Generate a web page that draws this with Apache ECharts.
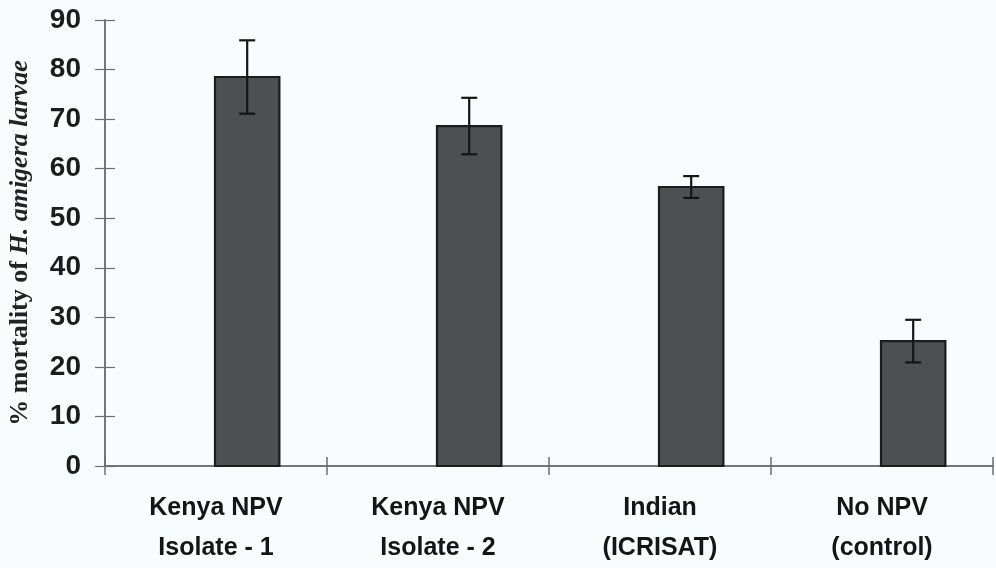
<!DOCTYPE html>
<html>
<head>
<meta charset="utf-8">
<script src="https://cdn.jsdelivr.net/npm/echarts@6/dist/echarts.min.js"></script>
<style>
  html, body { margin: 0; padding: 0; background: #f9fcfd; }
  #chart { width: 996px; height: 568px; }
</style>
</head>
<body>
<div id="chart"></div>
<script>
// Treatments (x axis), mean % mortality and the ± error of each mean
const treatments = ['Kenya NPV\nIsolate - 1', 'Kenya NPV\nIsolate - 2', 'Indian\n(ICRISAT)', 'No NPV\n(control)'];
const meanMortality = [78.5, 68.6, 56.3, 25.2];
const errorMargin = [7.4, 5.7, 2.2, 4.3];
const yTicks = { min: 0, max: 90, step: 10 };

const axisGray = '#6b6f70';
const barShare = 0.29;   // bar width as a share of the category band

const chart = echarts.init(document.getElementById('chart'));

// Bars sit to the right of each category centre
function barGeometry(api, idx, value) {
  const base = api.coord([idx, 0]);
  const band = api.size([1, 0])[0];
  const w = band * barShare;
  return { x0: base[0] - 1, w: w, y0: base[1], yTop: api.coord([idx, value])[1] };
}

const commonX = {
  type: 'category',
  position: 'bottom',
  data: treatments,
  boundaryGap: true,
  axisLine: { show: true, lineStyle: { color: axisGray, width: 1.5 } },
  splitLine: { show: false }
};
const commonY = {
  type: 'value',
  position: 'left',
  min: yTicks.min, max: yTicks.max, interval: yTicks.step,
  axisLine: { show: true, lineStyle: { color: axisGray, width: 1.5 } },
  splitLine: { show: false }
};

chart.setOption({
  backgroundColor: '#f9fcfd',
  animation: false,
  grid: { left: 105, right: 3, top: 20, bottom: 102, containLabel: false, outerBoundsMode: 'none' },
  xAxis: [
    Object.assign({}, commonX, {
      axisTick: { show: true, inside: false, length: 9, lineStyle: { color: axisGray, width: 1.5 } },
      axisLabel: {
        margin: 22,
        color: '#151515',
        fontFamily: 'Liberation Sans, Arial, sans-serif',
        fontWeight: 'bold',
        fontSize: 25,
        lineHeight: 40
      }
    }),
    Object.assign({}, commonX, {
      axisTick: { show: true, inside: true, length: 9, lineStyle: { color: axisGray, width: 1.5 } },
      axisLabel: { show: false }
    })
  ],
  yAxis: [
    Object.assign({}, commonY, {
      axisTick: { show: true, inside: false, length: 10, lineStyle: { color: axisGray, width: 1.2 } },
      axisLabel: {
        margin: 24,
        color: '#1c1c1c',
        fontFamily: 'Liberation Sans, Arial, sans-serif',
        fontWeight: 'bold',
        fontSize: 28
      },
      name: '{a|% mortality of }{b|H. amigera larvae}',
      nameLocation: 'middle',
      nameGap: 72,
      nameRotate: 90,
      nameTextStyle: {
        rich: {
          a: { fontFamily: 'Liberation Serif, Times New Roman, serif', fontWeight: 'bold', fontSize: 26, color: '#222' },
          b: { fontFamily: 'Liberation Serif, Times New Roman, serif', fontWeight: 'bold', fontStyle: 'italic', fontSize: 26, color: '#222' }
        }
      }
    }),
    Object.assign({}, commonY, {
      axisTick: { show: true, inside: true, length: 10, lineStyle: { color: axisGray, width: 1.2 } },
      axisLabel: { show: false }
    })
  ],
  series: [
    {
      name: 'Mean mortality',
      type: 'custom',
      xAxisIndex: 0, yAxisIndex: 0,
      data: meanMortality.map((v, i) => [i, v]),
      renderItem: function (params, api) {
        const g = barGeometry(api, api.value(0), api.value(1));
        return {
          type: 'rect',
          shape: { x: g.x0, y: g.yTop, width: g.w, height: g.y0 - g.yTop },
          style: { fill: '#4e4f50', stroke: '#1b1c1c', lineWidth: 2.2 }
        };
      }
    },
    {
      name: 'Error',
      type: 'custom',
      xAxisIndex: 0, yAxisIndex: 0,
      data: meanMortality.map((v, i) => [i, v - errorMargin[i], v + errorMargin[i]]),
      renderItem: function (params, api) {
        const idx = api.value(0);
        const g = barGeometry(api, idx, 0);
        const cx = g.x0 + g.w / 2;
        const lo = api.coord([idx, api.value(1)])[1];
        const hi = api.coord([idx, api.value(2)])[1];
        const cap = 8;
        const st = { stroke: '#151515', lineWidth: 2.2 };
        return {
          type: 'group',
          children: [
            { type: 'line', shape: { x1: cx, y1: hi, x2: cx, y2: lo }, style: st },
            { type: 'line', shape: { x1: cx - cap, y1: hi, x2: cx + cap, y2: hi }, style: st },
            { type: 'line', shape: { x1: cx - cap, y1: lo, x2: cx + cap, y2: lo }, style: st }
          ]
        };
      },
      z: 3
    }
  ]
});
</script>
</body>
</html>
